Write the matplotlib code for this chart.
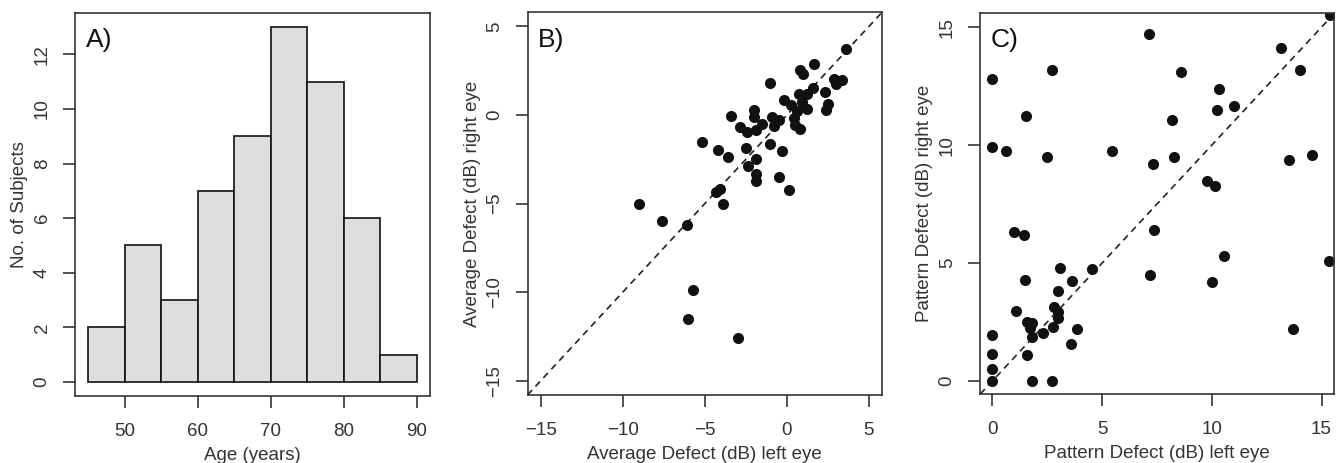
import matplotlib
matplotlib.use("Agg")
import matplotlib.pyplot as plt

plt.rcParams['font.family'] = ['Liberation Sans', 'DejaVu Sans']

# Panel A: age histogram
ageEdges = [45, 50, 55, 60, 65, 70, 75, 80, 85]
ageCounts = [2, 5, 3, 7, 9, 13, 11, 6, 1]

# Panel B: average defect, left vs right eye (dB)
adLeft = [-9.0, -7.6, -6.1, -5.7, -6.0, -3.0, -4.3, -4.1, -3.9, -1.9,
          -1.9, -0.45, 0.15, -5.2, -4.2, -3.6, -3.4, -2.85, -2.4, -1.9,
          -2.0, -2.0, -1.5, -2.5, -1.85, -2.35, -1.05, -0.3, -1.0, -0.9,
          -0.45, -0.8, -0.2, 0.25, 0.45, 0.5, 0.8, 0.6, 0.75, 1.2,
          0.95, 1.2, 1.6, 0.8, 1.0, 1.65, 2.3, 2.5, 2.4, 2.85,
          3.0, 3.35, 3.6]
adRight = [-5.0, -6.0, -6.2, -9.9, -11.5, -12.6, -4.35, -4.2, -5.0, -3.35,
           -3.7, -3.5, -4.25, -1.55, -2.0, -2.35, -0.05, -0.7, -0.95, -0.85,
           0.3, -0.1, -0.5, -1.85, -2.5, -2.85, -1.65, -2.05, 1.8, -0.1,
           -0.3, -0.6, 0.85, 0.55, -0.15, -0.55, -0.8, 0.2, 1.2, 0.35,
           0.76, 1.2, 1.55, 2.55, 2.3, 2.9, 1.3, 0.65, 0.3, 2.05,
           1.75, 2.0, 3.7]

# Panel C: pattern defect, left vs right eye (dB)
pdLeft = [7.15, 0.0, 2.7, 1.55, 0.0, 0.6, 2.5, 5.45, 7.3, 8.2,
          8.6, 8.3, 10.35, 10.25, 11.0, 9.8, 10.15, 13.15, 14.0, 13.5,
          14.55, 15.4, 1.0, 1.45, 7.35, 10.55, 15.35, 7.2, 10.0, 13.7,
          1.5, 3.1, 4.55, 3.65, 3.0, 1.1, 2.8, 3.0, 3.0, 2.75,
          1.6, 1.8, 1.7, 1.8, 2.3, 3.85, 3.6, 1.6, 0.0, 0.0,
          0.0, 0.0, 1.8, 2.7]
pdRight = [14.7, 12.8, 13.2, 11.25, 9.93, 9.75, 9.5, 9.75, 9.2, 11.05,
           13.1, 9.5, 12.4, 11.5, 11.65, 8.5, 8.25, 14.1, 13.2, 9.35,
           9.6, 15.5, 6.3, 6.2, 6.4, 5.3, 5.1, 4.5, 4.2, 2.2,
           4.3, 4.8, 4.75, 4.25, 3.8, 2.95, 3.12, 2.94, 2.66, 2.28,
           2.49, 2.44, 2.23, 1.85, 2.02, 2.2, 1.55, 1.1, 1.95, 1.13,
           0.51, 0.0, 0.0, 0.0]

textColor = '#333333'
boxColor = '#333333'


def styleAxes(ax, xTicks, yTicks, xLabel, yLabel, panelLabel):
    for spine in ax.spines.values():
        spine.set_color(boxColor)
        spine.set_linewidth(1.2)
    ax.set_xticks(xTicks)
    ax.set_yticks(yTicks)
    ax.tick_params(axis='both', direction='out', length=8.5, width=1.2,
                   color=boxColor, labelcolor=textColor, labelsize=13.5)
    ax.tick_params(axis='x', pad=11)
    ax.tick_params(axis='y', pad=9)
    for label in ax.get_yticklabels():
        label.set_rotation(90)
        label.set_va('center')
    ax.set_xlabel(xLabel, fontsize=13.5, color=textColor, labelpad=5)
    ax.set_ylabel(yLabel, fontsize=13.5, color=textColor, labelpad=4)
    ax.text(0.03, 0.96, panelLabel, transform=ax.transAxes, ha='left', va='top',
            fontsize=19, color='#111111')


fig = plt.figure(figsize=(13.44, 4.63), dpi=100)
axA = fig.add_axes([0.0558, 0.1447, 0.2641, 0.8272])
axB = fig.add_axes([0.3925, 0.1469, 0.2638, 0.8266])
axC = fig.add_axes([0.7292, 0.1490, 0.2634, 0.8229])

# A) histogram of ages
axA.bar(ageEdges, ageCounts, width=5, align='edge', color='#dedede',
        edgecolor='#111111', linewidth=1.2)
axA.set_xlim(43.2, 91.8)
axA.set_ylim(-0.52, 13.52)
styleAxes(axA, [50, 60, 70, 80, 90], [0, 2, 4, 6, 8, 10, 12],
          'Age (years)', 'No. of Subjects', 'A)')

# B) average defect scatter
axB.axline((0, 0), slope=1, color='#222222', linestyle=(0, (4, 3)), linewidth=1.2)
axB.plot(adLeft, adRight, 'o', color='#111111', markersize=8, markeredgewidth=0)
axB.set_xlim(-15.8, 5.8)
axB.set_ylim(-15.8, 5.8)
styleAxes(axB, [-15, -10, -5, 0, 5], [-15, -10, -5, 0, 5],
          'Average Defect (dB) left eye', 'Average Defect (dB) right eye', 'B)')

# C) pattern defect scatter
axC.axline((0, 0), slope=1, color='#222222', linestyle=(0, (4, 3)), linewidth=1.2)
axC.plot(pdLeft, pdRight, 'o', color='#111111', markersize=8, markeredgewidth=0)
axC.set_xlim(-0.56, 15.57)
axC.set_ylim(-0.55, 15.6)
styleAxes(axC, [0, 5, 10, 15], [0, 5, 10, 15],
          'Pattern Defect (dB) left eye', 'Pattern Defect (dB) right eye', 'C)')

fig.savefig('out.png', dpi=100)
